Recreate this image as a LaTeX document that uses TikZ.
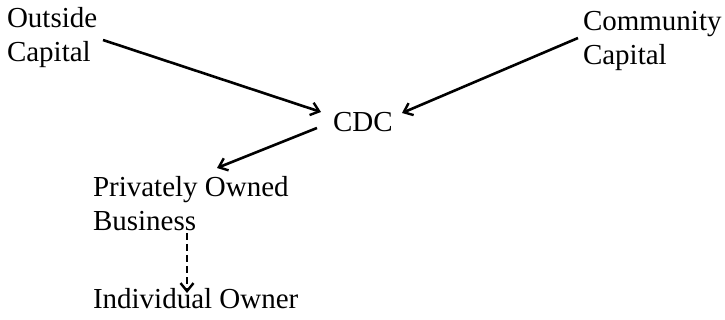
\documentclass[tikz,border=0pt]{standalone}
\usepackage{fontspec}
\setmainfont{Liberation Serif}
\usetikzlibrary{arrows.meta}
\begin{document}
\begin{tikzpicture}[x=1pt,y=-1pt,
  lbl/.style={inner sep=0pt,outer sep=0pt,anchor=base west,align=left,
    font=\fontsize{29}{34}\selectfont},
  flow/.style={line width=2.6pt,-{Straight Barb[length=8pt,width=13pt,line width=2.4pt]}},
  dflow/.style={flow,dash pattern=on 7pt off 4pt}]
\useasboundingbox (0,0) rectangle (725,320);
\node[lbl] (oc) at (7,62) {Outside\\Capital};
\node[lbl] (cc) at (583,65) {Community\\Capital};
\node[lbl] (cdc) at (333,132) {CDC};
\node[lbl] (pob) at (93,231) {Privately Owned\\Business};
\node[lbl] (io) at (93,308) {Individual Owner};
\draw[flow] ([shift={(96,-22)}]oc.base west) -- ([shift={(-12,-20)}]cdc.base west);
\draw[flow] ([shift={(-5,-27)}]cc.base west) -- ([shift={(69,-19)}]cdc.base west);
\draw[flow] ([shift={(-16,-4)}]cdc.base west) -- ([shift={(124,-63)}]pob.base west);
\draw[dflow] ([shift={(94,2)}]pob.base west) -- ([shift={(94,-15)}]io.base west);
\end{tikzpicture}
\end{document}
